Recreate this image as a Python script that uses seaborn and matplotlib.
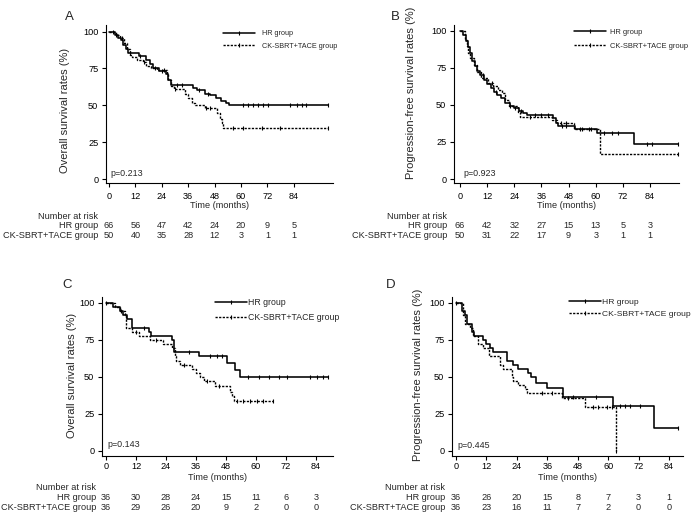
import numpy as np
import pandas as pd
import matplotlib
matplotlib.use("Agg")
import matplotlib.pyplot as plt
import seaborn as sns
from matplotlib.lines import Line2D
from matplotlib.transforms import blended_transform_factory

# ---------------- data ----------------
group_labels = ["HR group", "CK-SBRT+TACE group"]
time_ticks = [0, 12, 24, 36, 48, 60, 72, 84]
surv_ticks = [0, 25, 50, 75, 100]
panel_letters = ["A", "B", "C", "D"]
y_titles = ["Overall survival rates (%)", "Progression-free survival rates (%)",
            "Overall survival rates (%)", "Progression-free survival rates (%)"]
p_values = ["p=0.213", "p=0.923", "p=0.143", "p=0.445"]

# Panel A (OS, whole cohort)
A_hr_t = [0, 2.5, 4, 5.5, 6.5, 7.5, 8.5, 13.5, 17, 18.5, 20, 22.5, 26, 27, 28, 38, 40, 43.5, 46, 48.5, 51, 53, 54.5]
A_hr_s = [100, 98, 96, 94, 91, 88, 85.5, 83.5, 81, 78, 75.5, 73, 71, 67, 64, 62, 60.5, 58, 57, 55, 53, 51.5, 50]
A_hr_end = 99.5
A_hr_cens = [3, 9.5, 14, 21, 24, 31, 33, 41, 45, 61, 63.3, 65.5, 67.7, 70, 72.3, 82.3, 85.5, 87.7, 89.5, 99.5]
A_ck_t = [0, 3, 5, 7, 8, 9.5, 10.5, 12.5, 15.5, 17, 19, 22, 26.5, 27, 28, 29.5, 34.5, 36, 37.5, 39, 43.5, 49, 50.5, 51.5, 52]
A_ck_s = [100, 98, 96, 92, 88, 84, 82.5, 81, 79.5, 77, 75.5, 74, 71.5, 67, 63, 61, 58, 55, 51.5, 50, 48, 44.5, 41, 38, 34.5]
A_ck_end = 99.5
A_ck_cens = [2, 6, 16, 25, 30, 44, 46, 56.5, 61, 69.5, 77.7, 99.5]
A_risk_hr = [66, 56, 47, 42, 24, 20, 9, 5]
A_risk_ck = [50, 40, 35, 28, 12, 3, 1, 1]

# Panel B (PFS, whole cohort)
B_hr_t = [0, 1.5, 2.5, 3.5, 4.5, 5.5, 6.5, 7.5, 9, 10.5, 12, 13.5, 15, 16.5, 18, 20, 22, 24, 26, 28, 29.5, 41, 42.5, 43.5, 51, 60.5, 77]
B_hr_s = [100, 97, 93, 89, 85, 80, 76, 73, 70, 67, 64, 61.5, 59, 57, 55, 51, 49.5, 48, 46, 44.5, 43, 41, 38, 36, 34, 31, 23.5]
B_hr_end = 96.5
B_hr_cens = [10, 16, 24.5, 27, 33, 36, 39, 45, 47, 54, 57, 63.5, 67, 70, 82.5, 84.7, 96.5]
B_ck_t = [0, 2, 3, 3.7, 4.5, 6, 7.5, 9.5, 12.5, 14.5, 17, 18.5, 20, 21.5, 25.5, 26.5, 40.5, 43, 50.5, 62]
B_ck_s = [100, 94, 90, 85, 81.5, 77, 72.5, 68, 65, 62.5, 60, 58, 53.5, 49, 45, 42, 40, 38, 34, 17]
B_ck_end = 96.5
B_ck_cens = [14, 22, 31, 44.5, 47, 53, 58, 96.5]
B_risk_hr = [66, 42, 32, 27, 15, 13, 5, 3]
B_risk_ck = [50, 31, 22, 17, 9, 3, 1, 1]

# Panel C (OS, matched cohort)
C_hr_t = [0, 2.7, 5.5, 6.8, 8.5, 10.3, 17.3, 18, 26.3, 27.2, 37, 48.3, 51.6, 53.6]
C_hr_s = [100, 97.2, 94.4, 91.7, 88.9, 83.3, 80.6, 77.8, 75, 66.7, 63.9, 59.7, 54.5, 50]
C_hr_end = 88.9
C_hr_cens = [0, 15, 33, 41.6, 44.3, 46.3, 56.9, 61, 65, 69, 72.3, 81.6, 84.3, 86.9, 88.9]
C_ck_t = [0, 3.6, 5.5, 7.5, 8, 10.3, 13, 17.6, 22.9, 26.3, 27.5, 28, 29.6, 34.3, 36, 37.5, 39, 43.6, 49.6, 50.3, 51]
C_ck_s = [100, 97.2, 94.4, 91.7, 83.3, 80.6, 77.8, 75, 72.2, 69.4, 63.9, 61.1, 58.3, 55.6, 52.8, 50, 47.2, 43.6, 40, 37, 33.5]
C_ck_end = 66.9
C_ck_cens = [6, 12, 20, 31, 40.5, 45, 52.3, 54.9, 57.6, 60.3, 62.9, 66.9]
C_risk_hr = [36, 30, 28, 24, 15, 11, 6, 3]
C_risk_ck = [36, 29, 26, 20, 9, 2, 0, 0]

# Panel D (PFS, matched cohort)
D_hr_t = [0, 2.2, 3.5, 4.5, 6.2, 7.2, 10.5, 12, 13.5, 14.5, 20, 22.5, 24.5, 28.5, 29.5, 31.5, 35.8, 42.3, 62, 78]
D_hr_s = [100, 94.4, 91.7, 86.1, 80.6, 77.8, 75, 72.2, 69.4, 66.7, 61.1, 58.3, 55.6, 52.8, 50, 45.7, 42.3, 36.5, 30.5, 15.5]
D_hr_end = 87.7
D_hr_cens = [0, 46, 55, 64.7, 66.6, 68.6, 72.6, 87.7]
D_ck_t = [0, 2.9, 3.5, 5.5, 6.8, 8.8, 10.8, 12.8, 17.4, 18.7, 22, 22.6, 24.6, 27.2, 27.9, 41.7, 50.9, 63]
D_ck_s = [100, 91.7, 86.1, 83.3, 77.8, 72.2, 69.4, 63.9, 58.3, 55.6, 50, 47.2, 44.4, 41.7, 39, 35.6, 30, 0]
D_ck_end = 63
D_ck_cens = [34, 38, 44, 54.2, 56.1, 59.4, 61.4, 63]
D_risk_hr = [36, 26, 20, 15, 8, 7, 3, 1]
D_risk_ck = [36, 23, 16, 11, 7, 2, 0, 0]

curves = [
    (A_hr_t, A_hr_s, A_hr_end, A_hr_cens, A_ck_t, A_ck_s, A_ck_end, A_ck_cens, A_risk_hr, A_risk_ck),
    (B_hr_t, B_hr_s, B_hr_end, B_hr_cens, B_ck_t, B_ck_s, B_ck_end, B_ck_cens, B_risk_hr, B_risk_ck),
    (C_hr_t, C_hr_s, C_hr_end, C_hr_cens, C_ck_t, C_ck_s, C_ck_end, C_ck_cens, C_risk_hr, C_risk_ck),
    (D_hr_t, D_hr_s, D_hr_end, D_hr_cens, D_ck_t, D_ck_s, D_ck_end, D_ck_cens, D_risk_hr, D_risk_ck),
]

# ---------------- layout (pixels) ----------------
W, H = 693, 516
layout = [
    dict(rect=(106, 25, 333, 183), xlim=(-1.4, 101.8), ylim=(-2.7, 104.5),
         leg=(0.515, 0.968, 5.2, 4.4, 1.0, 0.79), pval=(0.018, 0.057),
         letter=(69, 17), ylab=(65, 110), hdr_x=98, rows=(205.5, 216, 226, 236), xpad=3.5),
    dict(rect=(454, 25, 679, 183), xlim=(-2.65, 96.8), ylim=(-2.7, 104.0),
         leg=(0.533, 0.977, 5.4, 4.25, 0.5, 0.85), pval=(0.04, 0.057),
         letter=(395, 17), ylab=(411, 93), hdr_x=447, rows=(205.5, 216, 226, 236), xpad=3.5),
    dict(rect=(102, 297, 333, 456), xlim=(-1.6, 90.8), ylim=(-3.4, 104.0),
         leg=(0.489, 0.994, 6.3, 3.66, 0.1, 0.69), pval=(0.022, 0.075),
         letter=(67, 285), ylab=(72, 375), hdr_x=96, rows=(477, 487, 497.5, 507.5), xpad=1.2),
    dict(rect=(452, 297, 683, 456), xlim=(-1.6, 89.5), ylim=(-3.4, 104.0),
         leg=(0.506, 0.994, 6.1, 3.8, 0.05, 0.5), pval=(0.022, 0.069),
         letter=(391, 285), ylab=(418, 375), hdr_x=445, rows=(477, 487, 497.5, 507.5), xpad=1.2),
]

sns.set_style("ticks")
plt.rcParams["font.family"] = ["Liberation Sans", "DejaVu Sans"]
plt.rcParams["axes.linewidth"] = 0.8

fig = plt.figure(figsize=(W / 100, H / 100), dpi=100)
DASH = (0, (1.6, 1.0))
FS = 6.6


def km_frame(t, s, t_end):
    return pd.DataFrame({"time": list(t) + [t_end], "surv": list(s) + [s[-1]]})


def surv_at(t, s, c):
    idx = np.searchsorted(np.asarray(t), np.asarray(c), side="right") - 1
    return np.asarray(s)[idx]


for i, (lay, cv) in enumerate(zip(layout, curves)):
    hr_t, hr_s, hr_end, hr_c, ck_t, ck_s, ck_end, ck_c, r_hr, r_ck = cv
    l, t, r, b = lay["rect"]
    ax = fig.add_axes([l / W, 1 - b / H, (r - l) / W, (b - t) / H])

    sns.lineplot(data=km_frame(hr_t, hr_s, hr_end), x="time", y="surv", ax=ax,
                 drawstyle="steps-post", color="black", lw=1.15,
                 estimator=None, sort=False)
    sns.lineplot(data=km_frame(ck_t, ck_s, ck_end), x="time", y="surv", ax=ax,
                 drawstyle="steps-post", color="black", lw=1.0, linestyle=DASH,
                 estimator=None, sort=False)
    for tt, ss, cc in ((hr_t, hr_s, hr_c), (ck_t, ck_s, ck_c)):
        cdf = pd.DataFrame({"time": cc, "surv": surv_at(tt, ss, cc)})
        sns.scatterplot(data=cdf, x="time", y="surv", ax=ax, marker="|", s=10,
                        color="black", linewidth=0.8, zorder=3)

    ax.set_xlim(*lay["xlim"])
    ax.set_ylim(*lay["ylim"])
    ax.set_xticks(time_ticks)
    ax.set_yticks(surv_ticks)
    ax.set_xlabel("")
    ax.set_ylabel("")
    sns.despine(ax=ax)
    for sp in ("left", "bottom"):
        ax.spines[sp].set_color("black")
        ax.spines[sp].set_linewidth(0.8)
    ax.tick_params(axis="both", length=3, width=0.8, color="black", labelsize=FS, labelcolor="black")
    ax.tick_params(axis="x", pad=lay["xpad"])
    ax.tick_params(axis="y", pad=2.5)

    # legend
    lx, ly, lfs, hl, htp, lsp = lay["leg"]
    h1 = Line2D([], [], color="black", lw=1.1, marker="|", ms=3, mew=0.8)
    h2 = Line2D([], [], color="black", lw=1.0, linestyle=DASH, marker="|", ms=3, mew=0.8)
    ax.legend([h1, h2], group_labels, loc="upper left", bbox_to_anchor=(lx, ly),
              frameon=False, fontsize=lfs, handlelength=hl, handletextpad=htp,
              labelspacing=lsp, borderpad=0, borderaxespad=0, numpoints=1)

    # p value
    ax.text(lay["pval"][0], lay["pval"][1], p_values[i], transform=ax.transAxes,
            fontsize=6.4, ha="left", va="center")

    # panel letter & y title
    fig.text(lay["letter"][0] / W, 1 - lay["letter"][1] / H, panel_letters[i],
             fontsize=9.5, ha="center", va="center")
    fig.text(lay["ylab"][0] / W, 1 - lay["ylab"][1] / H, y_titles[i], rotation=90,
             fontsize=8, ha="center", va="center")

    # x title and risk table
    y_time, y_hdr, y_hr, y_ck = lay["rows"]
    fig.text((l + r) / 2 / W, 1 - y_time / H, "Time (months)", fontsize=FS,
             ha="center", va="center")
    hx = lay["hdr_x"] / W
    fig.text(hx, 1 - y_hdr / H, "Number at risk", fontsize=FS, ha="right", va="center")
    fig.text(hx, 1 - y_hr / H, group_labels[0], fontsize=FS, ha="right", va="center")
    fig.text(hx, 1 - y_ck / H, group_labels[1], fontsize=FS, ha="right", va="center")
    tr = blended_transform_factory(ax.transData, fig.transFigure)
    for tk, n1, n2 in zip(time_ticks, r_hr, r_ck):
        ax.text(tk, 1 - y_hr / H, str(n1), transform=tr, fontsize=FS, ha="center",
                va="center", clip_on=False)
        ax.text(tk, 1 - y_ck / H, str(n2), transform=tr, fontsize=FS, ha="center",
                va="center", clip_on=False)

fig.savefig("out.png", dpi=100, facecolor="white")
